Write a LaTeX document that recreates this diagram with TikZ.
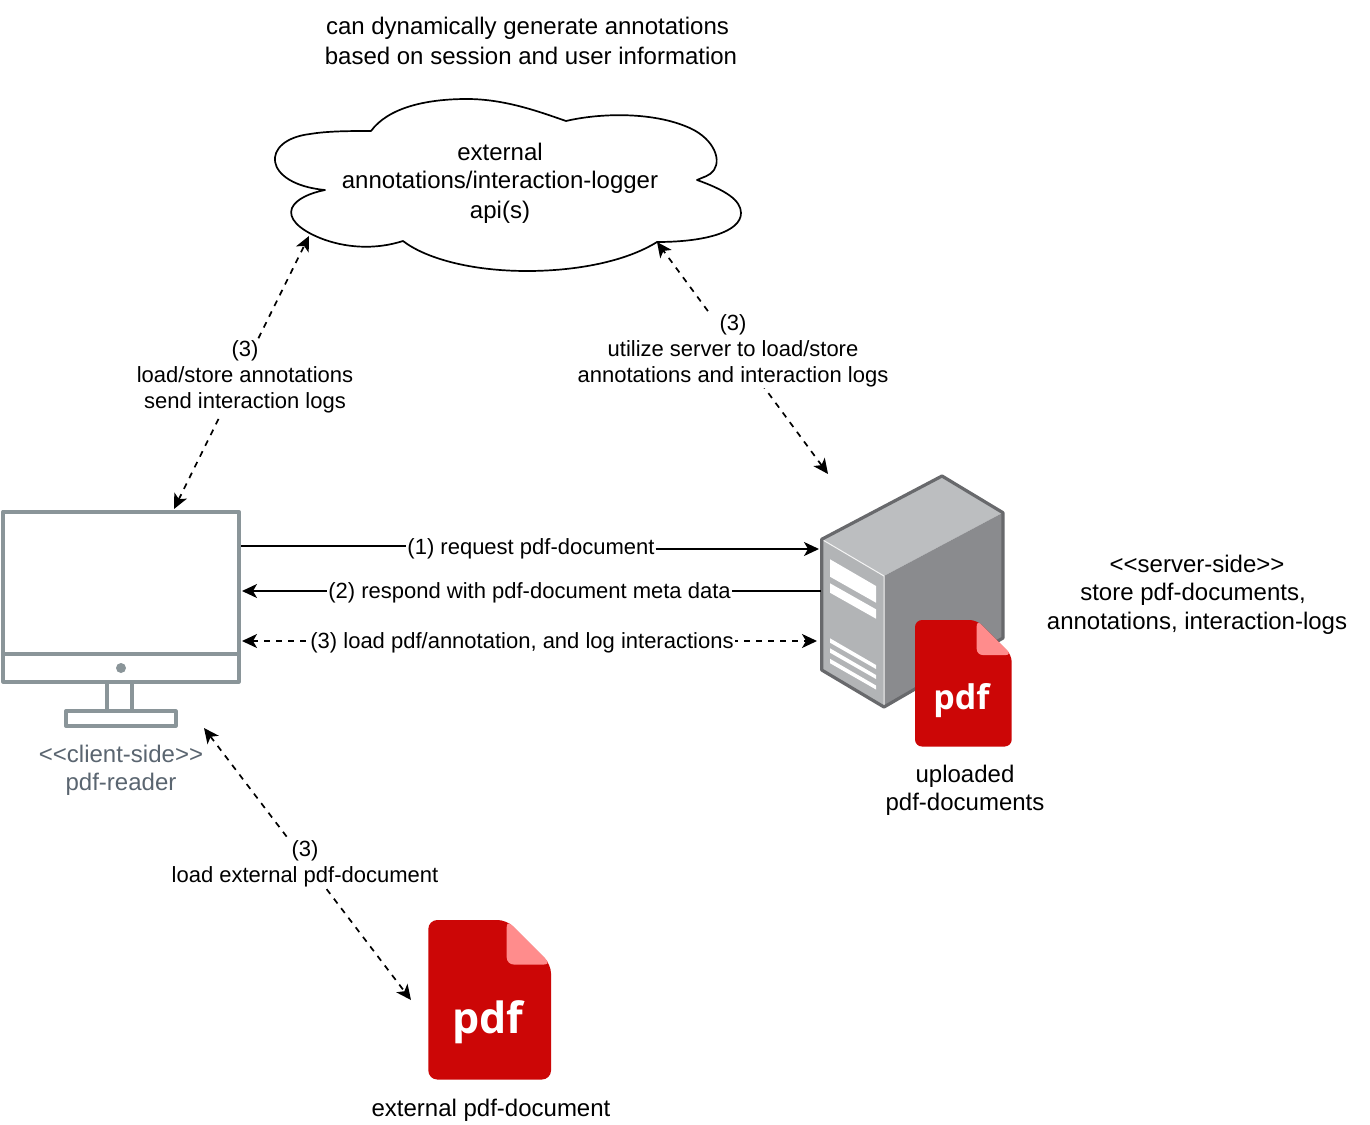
\documentclass[tikz,border=0pt]{standalone}
\usepackage{fontspec}
\setmainfont{Liberation Sans}
\newfontfamily\pdffont{Open Sans}
\usetikzlibrary{arrows.meta}
\definecolor{mongray}{HTML}{8A9599}
\definecolor{montext}{HTML}{5A6570}
\definecolor{srvedge}{HTML}{68696C}
\definecolor{srvtop}{HTML}{BCBEC0}
\definecolor{srvfront}{HTML}{B2B4B6}
\definecolor{srvright}{HTML}{8A8B8E}
\definecolor{pdfred}{HTML}{CC0606}
\definecolor{pdffold}{HTML}{FF8C8C}
\tikzset{
  bigtext/.style={inner sep=0pt,align=center,font=\fontsize{24}{28.5}\selectfont},
  edgelabel/.style={inner sep=1pt,align=center,fill=white,font=\fontsize{22}{26}\selectfont},
  conn/.style={line width=1.7pt,-{Stealth[length=15pt,width=14pt,inset=4pt]}},
  plainline/.style={line width=1.7pt},
  dconn/.style={line width=1.7pt,dash pattern=on 6pt off 6pt,{Stealth[length=15pt,width=14pt,inset=4pt]}-{Stealth[length=15pt,width=14pt,inset=4pt]}},
  monline/.style={draw=mongray,line width=4.3pt,line join=round,fill=white},
  srvwhite/.style={fill=white,draw=none},
}
\begin{document}
\begin{tikzpicture}[x=1pt,y=-1pt]
\useasboundingbox (0,0) rectangle (1370,1124);
\fill[white] (0,0) rectangle (1370,1124);

% cloud
\draw[line width=1.7pt,fill=white,line join=round] (325,190)
  .. controls (262,184) and (260,140) .. (310,134)
  .. controls (328,131) and (350,131) .. (371,131)
  .. controls (388,108) and (425,99) .. (467,99)
  .. controls (505,99) and (540,112) .. (566,121)
  .. controls (600,113) and (650,112) .. (685,126)
  .. controls (712,136) and (722,158) .. (714,170)
  .. controls (710,176) and (703,177) .. (697,180)
  .. controls (725,190) and (741,200) .. (741,213)
  .. controls (741,232) and (705,242) .. (657,242)
  .. controls (625,262) and (575,271) .. (527,271)
  .. controls (470,271) and (425,258) .. (403,241)
  .. controls (375,250) and (345,248) .. (320,238)
  .. controls (298,229) and (288,218) .. (292,208)
  .. controls (296,199) and (310,193) .. (325,190) -- cycle;
\node[bigtext] (cloudtext) at (500,183.3) {external\\[-0.7pt]annotations/interaction-logger\\[1.2pt]api(s)};
\node[bigtext] (toptext) at (531,41) {can dynamically generate annotations\hspace*{7pt}\\[1.5pt]based on session and user information};

% monitor
\draw[monline] (107.3,681) -- (107.3,711) (132,681) -- (132,711);
\draw[monline] (3.3,511.7) rectangle (238.7,681.7);
\draw[draw=mongray,line width=4.3pt] (3.3,653.7) -- (238.7,653.7);
\fill[mongray] (121,668) circle (5);
\draw[monline] (66,711.3) rectangle (175.7,725.7);
\node[bigtext,text=montext] (clientlabel) at (121,770.5) {{<}{<}client-side{>}{>}\\pdf-reader};

% server
\fill[srvtop] (942,476) -- (1003,512.7) -- (884,576) -- (821.7,539.3) -- cycle;
\fill[srvfront] (821.7,539.3) -- (884,576) -- (884,707) -- (821.7,670) -- cycle;
\fill[srvright] (1003,512.7) -- (1003,638) -- (884,707) -- (884,576) -- cycle;
\draw[white!85!srvfront,line width=1pt] (821.7,539.3) -- (884,576) -- (884,707);
\draw[srvedge,line width=3.2pt,line join=round] (942,476) -- (1003,512.7) -- (1003,638) -- (884,707) -- (821.7,670) -- (821.7,539.3) -- cycle;
\fill[srvwhite] (830,559.3) -- (876,586) -- (876,602.7) -- (830,576.7) -- cycle;
\fill[srvwhite] (830,583.3) -- (876,609.3) -- (876,618.7) -- (830,592.7) -- cycle;
\fill[srvwhite] (830,638.3) -- (876,665) -- (876,669) -- (830,642.7) -- cycle;
\fill[srvwhite] (830,648.3) -- (876,675) -- (876,679) -- (830,652.7) -- cycle;
\fill[srvwhite] (830,658.8) -- (876,685.5) -- (876,689.5) -- (830,663.2) -- cycle;

% small pdf
\fill[pdfred,rounded corners=7pt] (915,620) -- (915,746.5) -- (1011.7,746.5) -- (1011.7,655) -- (976.7,620) -- cycle;
\fill[pdffold,rounded corners=6pt] (976.7,620) -- (976.7,655) -- (1011.7,655) -- cycle;
\node[inner sep=0pt,text=white,font=\pdffont\bfseries\fontsize{34}{34}\selectfont] (smallpdf) at (961.5,701) {pdf};
\node[bigtext] (uploaded) at (965,790.5) {uploaded\\pdf-documents};
\node[bigtext] (servertext) at (1197,595) {{<}{<}server-side{>}{>}\\[-0.7pt]\hbox{store pdf-documents,\kern8pt}\\[1.2pt]annotations, interaction-logs};

% large pdf
\fill[pdfred,rounded corners=9pt] (428.3,920) -- (428.3,1079.5) -- (551,1079.5) -- (551,964.5) -- (506.7,920) -- cycle;
\fill[pdffold,rounded corners=7pt] (506.7,920) -- (506.7,964.5) -- (551,964.5) -- cycle;
\node[inner sep=0pt,text=white,font=\pdffont\bfseries\fontsize{43}{43}\selectfont] (largepdf) at (488,1022) {pdf};
\node[bigtext] (extlabel) at (491,1110) {external pdf-document};

% connector ends
\coordinate (mA) at (241,546.2);
\coordinate (sA) at (819,549);
\coordinate (sB) at (820.5,591);
\coordinate (mB) at (242,591);
\coordinate (sC) at (817,641);
\coordinate (mC) at (242,641);
\coordinate (mTop) at (174,509);
\coordinate (cL) at (309,236);
\coordinate (sTop) at (828,474);
\coordinate (cR) at (657,242);
\coordinate (mBot) at (204,728);
\coordinate (pBig) at (411,1000);

% connectors, then their labels over them
\node[edgelabel] (l1) at (531,549) {(1) request pdf-document};
\draw[plainline] (mA) -- (mA -| l1.west);
\draw[conn] (sA -| l1.east) -- (sA);
\draw[conn] (sB) -- (mB);
\draw[dconn] (mC) -- (sC);
\draw[dconn] (mTop) -- (cL);
\draw[dconn] (sTop) -- (cR);
\draw[dconn] (mBot) -- (pBig);

\node[edgelabel] (l2) at (529.5,593) {(2) respond with pdf-document meta data};
\node[edgelabel] (l3) at (522,643) {(3) load pdf/annotation, and log interactions};
\node[edgelabel] (l4) at (245,377) {(3)\\load/store annotations\\send interaction logs};
\node[edgelabel] (l5) at (733,351) {(3)\\utilize server to load/store\\annotations and interaction logs};
\node[edgelabel] (l6) at (305,863.5) {(3)\\load external pdf-document};
\end{tikzpicture}
\end{document}
